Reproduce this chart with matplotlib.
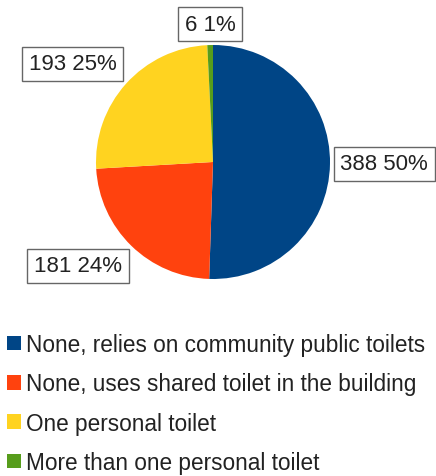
import numpy as np
import matplotlib
matplotlib.use("Agg")
import matplotlib.pyplot as plt
from matplotlib.patches import Patch

plt.rcParams["font.family"] = ["Liberation Sans", "DejaVu Sans"]

CATEGORIES = [
    "None, relies on community public toilets",
    "None, uses shared toilet in the building",
    "One personal toilet",
    "More than one personal toilet",
]
COUNTS = [388, 181, 193, 6]
PERCENTS = [50, 24, 25, 1]
COLORS = ["#004586", "#ff420e", "#ffd320", "#579d1c"]

W, H = 436, 477
CX, CY, R = 213, 163, 117          # pie centre / radius in pixels (from top)


def main():
    fig = plt.figure(figsize=(W / 100, H / 100), dpi=100)
    ax = fig.add_axes([(CX - R) / W, 1 - (CY + R) / H, 2 * R / W, 2 * R / H])
    wedges, _ = ax.pie(COUNTS, colors=COLORS, startangle=90, counterclock=False,
                       radius=1.0, wedgeprops=dict(linewidth=0))
    ax.set_xlim(-1, 1)
    ax.set_ylim(-1, 1)
    ax.set_aspect("equal")
    ax.axis("off")

    # label boxes hang off the wedge mid-angle, corner touching the anchor point
    pad_pt = 5
    for w, n, p in zip(wedges, COUNTS, PERCENTS):
        ang = np.deg2rad((w.theta1 + w.theta2) / 2)
        c, s = np.cos(ang), np.sin(ang)
        ha = "left" if c > 0.3 else ("right" if c < -0.3 else "center")
        va = "bottom" if s > 0.3 else ("top" if s < -0.3 else "center")
        dx = pad_pt if ha == "left" else (-pad_pt if ha == "right" else 0)
        dy = pad_pt if va == "bottom" else (-pad_pt if va == "top" else 0)
        ax.annotate(f"{n} {p}%", (1.03 * c, 1.03 * s), xytext=(dx, dy),
                    textcoords="offset points", ha=ha, va=va, fontsize=16,
                    color="#222222", annotation_clip=False,
                    bbox=dict(boxstyle="square,pad=0.3", fc="white",
                              ec="#666666", lw=1.0))

    handles = [Patch(facecolor=col, edgecolor="none") for col in COLORS]
    fig.legend(handles, CATEGORIES, loc="upper left",
               bbox_to_anchor=(7 / W, 1 - 334 / H), frameon=False,
               fontsize=16.3, handlelength=0.6, handleheight=0.6,
               handletextpad=0.25, labelspacing=0.72, borderpad=0,
               borderaxespad=0, labelcolor="#222222")

    fig.savefig("out.png", dpi=100)


if __name__ == "__main__":
    main()
